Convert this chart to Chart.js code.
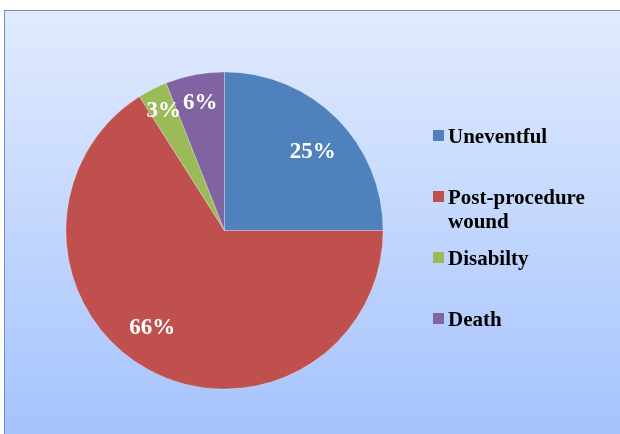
<!DOCTYPE html>
<html>
<head>
<meta charset="utf-8">
<script src="https://cdn.jsdelivr.net/npm/chart.js@4/dist/chart.umd.min.js"></script>
<style>
  html, body { margin: 0; padding: 0; background: #fff; }
  #wrap { width: 620px; height: 434px; position: relative; }
</style>
</head>
<body>
<div id="wrap"><canvas id="outcome-pie" width="620" height="434"></canvas></div>
<script>
(function () {
  'use strict';

  /* Outcome categories and their shares (%) */
  var categories = ['Uneventful', 'Post-procedure\nwound', 'Disabilty', 'Death'];
  var shares     = [25, 66, 3, 6];
  var colours    = ['#4F81BD', '#C0504D', '#9BBB59', '#8064A2'];

  /* Where each percent label sits: fraction of radius, angle nudge (deg) */
  var labelPlace = [
    { r: 0.744, nudge: 3.4 },
    { r: 0.764, nudge: 7.8 },
    { r: 0.843, nudge: 0 },
    { r: 0.815, nudge: 0 }
  ];

  var SERIF = '"Liberation Serif", "Times New Roman", serif';

  /* Gradient panel with a thin frame behind the pie */
  var panelBg = {
    id: 'panelBg',
    beforeDraw: function (chart) {
      var ctx = chart.ctx;
      var g = ctx.createLinearGradient(0, 10, 0, 434);
      g.addColorStop(0, '#E1EBFD');
      g.addColorStop(1, '#A5C3FD');
      ctx.save();
      ctx.fillStyle = '#ffffff';
      ctx.fillRect(0, 0, chart.width, chart.height);
      ctx.fillStyle = g;
      ctx.fillRect(4, 10, 700, 500);
      ctx.strokeStyle = '#6D90C6';
      ctx.lineWidth = 1;
      ctx.strokeRect(4.5, 10.5, 700, 500);
      ctx.restore();
    }
  };

  /* Percent labels on the slices */
  var sliceLabels = {
    id: 'sliceLabels',
    afterDatasetsDraw: function (chart) {
      var ctx = chart.ctx;
      var arcs = chart.getDatasetMeta(0).data;
      ctx.save();
      ctx.font = 'bold 23px ' + SERIF;
      ctx.fillStyle = '#ffffff';
      ctx.textAlign = 'center';
      ctx.textBaseline = 'middle';
      arcs.forEach(function (arc, i) {
        var p = arc.getProps(['x', 'y', 'startAngle', 'endAngle', 'outerRadius'], true);
        var mid = (p.startAngle + p.endAngle) / 2 + labelPlace[i].nudge * Math.PI / 180;
        var rr = p.outerRadius * labelPlace[i].r;
        ctx.fillText(shares[i] + '%', p.x + Math.cos(mid) * rr, p.y + Math.sin(mid) * rr);
      });
      ctx.restore();
    }
  };

  /* Legend on the right, one entry every 61px, wrapped names allowed */
  var sideLegend = {
    id: 'sideLegend',
    afterDraw: function (chart) {
      var ctx = chart.ctx;
      var x0 = 433, y0 = 135.5, step = 61, box = 11, lineH = 24;
      ctx.save();
      ctx.font = 'bold 21px ' + SERIF;
      ctx.textBaseline = 'alphabetic';
      ctx.textAlign = 'left';
      categories.forEach(function (name, i) {
        var cy = y0 + i * step;
        ctx.fillStyle = colours[i];
        ctx.fillRect(x0, cy - box / 2, box, box);
        ctx.fillStyle = '#000000';
        name.split('\n').forEach(function (line, j) {
          ctx.fillText(line, x0 + 15, cy + 7 + j * lineH);
        });
      });
      ctx.restore();
    }
  };

  new Chart(document.getElementById('outcome-pie'), {
    type: 'pie',
    data: {
      labels: categories,
      datasets: [{
        data: shares,
        backgroundColor: colours,
        borderColor: 'rgba(255,255,255,0.35)',
        borderWidth: 0.8
      }]
    },
    options: {
      responsive: false,
      animation: false,
      layout: { padding: { left: 65.5, right: 236.5, top: 71.5, bottom: 44.5 } },
      plugins: {
        legend: { display: false },
        tooltip: { enabled: false }
      }
    },
    plugins: [panelBg, sliceLabels, sideLegend]
  });
})();
</script>
</body>
</html>
